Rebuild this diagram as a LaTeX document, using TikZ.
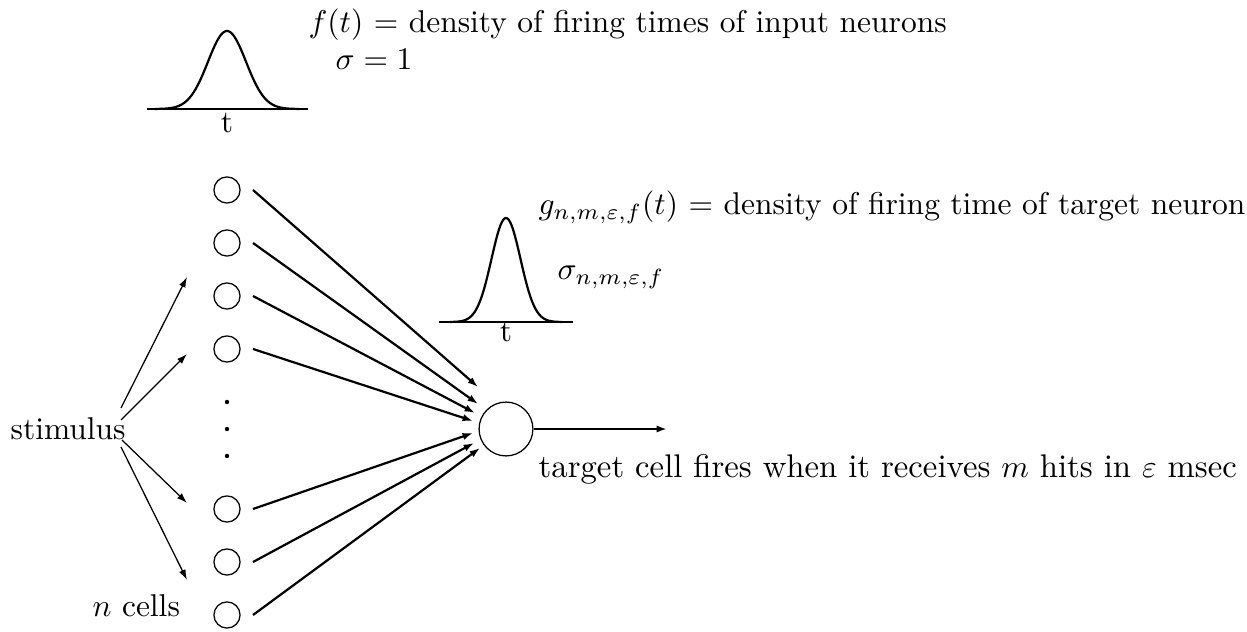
\documentclass[tikz,border=0pt]{standalone}
\usetikzlibrary{arrows.meta}
\begin{document}
\begin{tikzpicture}[x=0.3175pt, y=-0.3175pt,
  cell/.style={circle, draw, line width=0.4pt, minimum size=8.3pt, inner sep=0pt},
  target/.style={circle, draw, line width=0.4pt, minimum size=17.1pt, inner sep=0pt},
  dotnode/.style={circle, fill, minimum size=1.4pt, inner sep=0pt},
  lbl/.style={anchor=base west, inner sep=0pt},
  tlbl/.style={anchor=base, inner sep=0pt},
  syn/.style={line width=0.7pt, -{Latex[length=3.3pt,width=2.3pt]}},
  stimarrow/.style={line width=0.4pt, -{Latex[length=3.3pt,width=2.2pt]}},
  curve/.style={line width=0.7pt, line join=round}]
\useasboundingbox (0,0) rectangle (1247,632);

% input cells
\node[cell] (c1) at (227,190) {};
\node[cell] (c2) at (227,243) {};
\node[cell] (c3) at (227,296) {};
\node[cell] (c4) at (227,349) {};
\node[cell] (c5) at (227,509) {};
\node[cell] (c6) at (227,562) {};
\node[cell] (c7) at (227,615) {};
\node[dotnode] (d1) at (227,402) {};
\node[dotnode] (d2) at (227,429) {};
\node[dotnode] (d3) at (227,456) {};

% target cell
\node[target] (T) at (506,429) {};

% start / end coordinates of synapse arrows
\foreach \i/\y in {1/190,2/243,3/296,4/349,5/509,6/562,7/615}
  \coordinate (s\i) at (253,\y);
\coordinate (e1) at (478,387);
\coordinate (e2) at (478,404);
\coordinate (e3) at (475,413);
\coordinate (e4) at (473,421);
\coordinate (e5) at (473,433);
\coordinate (e6) at (474,443);
\coordinate (e7) at (480,448);
\foreach \i in {1,...,7}
  \draw[syn] (s\i) -- (e\i);

% output
\coordinate (out) at (667,429);
\draw[syn] (T.east) -- (out);

% stimulus
\node[lbl] (stim) at (10,440) {stimulus};
\coordinate (a1) at (121,408);
\coordinate (a2) at (121,420);
\coordinate (a3) at (122,440);
\coordinate (a4) at (121,447);
\coordinate (b1) at (187,277);
\coordinate (b2) at (187,354);
\coordinate (b3) at (187,503);
\coordinate (b4) at (187,580);
\foreach \i in {1,...,4}
  \draw[stimarrow] (a\i) -- (b\i);

\node[lbl] (ncells) at (92,617) {$n$ cells};

% input density
\draw[curve] (147,109) -- (308,109);
\draw[curve] plot[domain=-72:72, samples=90, smooth]
  ({227+\x}, {109-78*exp(-0.5*((\x)/19)*((\x)/19))});
\node[tlbl] (t1) at (227,133) {t};
\node[lbl] (ftext) at (308,33) {$f(t)$ = density of firing times of input neurons};
\node[lbl] (sig1) at (335,70) {$\sigma=1$};

% output density
\draw[curve] (439,322) -- (573,322);
\draw[curve] plot[domain=-56:56, samples=90, smooth]
  ({506+\x}, {322-104*exp(-0.5*((\x)/14.5)*((\x)/14.5))});
\node[tlbl] (t2) at (506,342) {t};
\node[lbl] (gtext) at (538,215) {$g_{n,m,\varepsilon,f}(t)$ = density of firing time of target neuron};
\node[lbl] (sig2) at (557,280) {$\sigma_{n,m,\varepsilon,f}$};

\node[lbl, font=\fontsize{10.4}{12.5}\selectfont] (fire) at (538,478) {target cell fires when it receives $m$ hits in $\varepsilon$ msec};
\end{tikzpicture}
\end{document}
